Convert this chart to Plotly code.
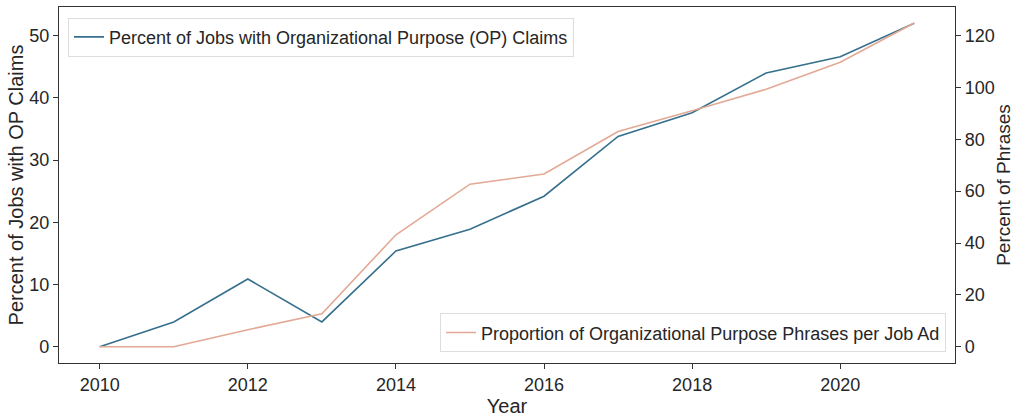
import plotly.graph_objects as go

years = [2010, 2011, 2012, 2013, 2014, 2015, 2016, 2017, 2018, 2019, 2020, 2021]
pct_jobs_op = [0.0, 4.0, 10.9, 4.0, 15.4, 18.9, 24.2, 33.8, 37.6, 44.0, 46.6, 52.0]
pct_phrases = [0.0, 0.0, 6.6, 12.7, 43.2, 62.7, 66.6, 83.0, 91.0, 99.3, 109.7, 124.8]

name1 = "Percent of Jobs with Organizational Purpose (OP) Claims"
name2 = "Proportion of Organizational Purpose Phrases per Job Ad"

blue = "#36708c"
orange = "#e2a995"
font = "Liberation Sans, Arial, sans-serif"

fig = go.Figure()
fig.add_trace(go.Scatter(x=years, y=pct_jobs_op, mode="lines", name=name1,
                         line=dict(color=blue, width=1.6), legend="legend"))
fig.add_trace(go.Scatter(x=years, y=pct_phrases, mode="lines", name=name2,
                         line=dict(color=orange, width=1.6), yaxis="y2", legend="legend2"))

axis_common = dict(showline=True, linecolor="#333333", linewidth=1.3, ticks="outside",
                   ticklen=5, tickcolor="#333333", showgrid=False, zeroline=False,
                   automargin=False,
                   tickfont=dict(size=18, color="#262626", family=font))

fig.update_layout(
    width=1024, height=419,
    margin=dict(l=59, r=69, t=7, b=56),
    paper_bgcolor="white", plot_bgcolor="white",
    font=dict(family=font, color="#262626"),
    xaxis=dict(range=[2009.45, 2021.55], tickvals=[2010, 2012, 2014, 2016, 2018, 2020],
               mirror=True, title=dict(text="Year", font=dict(size=20), standoff=2),
               **axis_common),
    yaxis=dict(range=[-2.6, 54.6], tickvals=[0, 10, 20, 30, 40, 50],
               title=dict(text="Percent of Jobs with OP Claims", font=dict(size=20), standoff=0),
               **axis_common),
    yaxis2=dict(range=[-6.24, 131.0], tickvals=[0, 20, 40, 60, 80, 100, 120],
                overlaying="y", side="right",
                title=dict(text="Percent of Phrases", font=dict(size=19), standoff=2),
                **axis_common),
    legend=dict(x=0.01, y=0.97, xanchor="left", yanchor="top", bgcolor="white",
                bordercolor="#dddddd", borderwidth=1, font=dict(size=18, family=font)),
    legend2=dict(x=0.99, y=0.03, xanchor="right", yanchor="bottom", bgcolor="white",
                 bordercolor="#dddddd", borderwidth=1, font=dict(size=18, family=font)),
    showlegend=True,
)

fig.write_html("out.html", config={"displayModeBar": False},
               post_script="document.body.style.margin='0';")
